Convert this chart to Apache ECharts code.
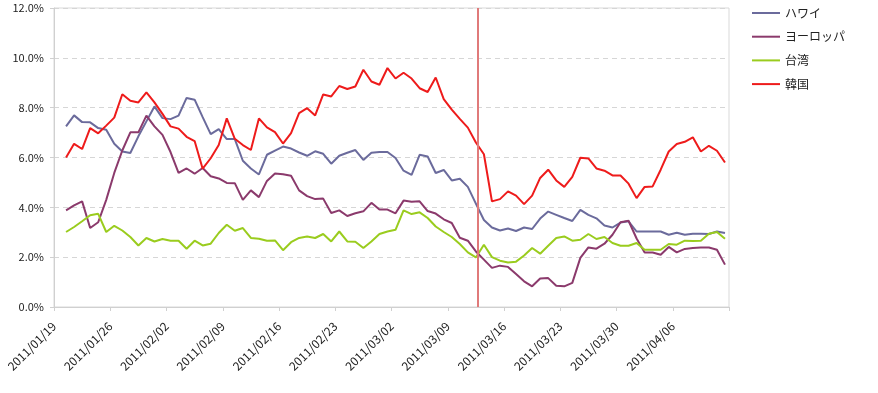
<!DOCTYPE html>
<html><head><meta charset="utf-8">
<script src="https://cdn.jsdelivr.net/npm/echarts@6/dist/echarts.min.js"></script>
<style>html,body{margin:0;padding:0;background:#fff}#c{width:878px;height:393px}</style>
</head><body><div id="c"></div>
<script>
// Tick labels (every 7 days, first day 2011/01/19)
const tickLabels = ['2011/01/19','2011/01/26','2011/02/02','2011/02/09','2011/02/16','2011/02/23','2011/03/02','2011/03/09','2011/03/16','2011/03/23','2011/03/30','2011/04/06'];
const seriesNames = ['ハワイ','ヨーロッパ','台湾','韓国'];
// Daily values (%) from 2011/01/20 to 2011/04/12
const hawaii = [7.25,7.69,7.42,7.41,7.18,7.11,6.55,6.24,6.18,6.85,7.45,8.05,7.58,7.54,7.68,8.39,8.32,7.62,6.94,7.14,6.74,6.74,5.87,5.56,5.32,6.11,6.28,6.44,6.36,6.2,6.07,6.25,6.15,5.75,6.07,6.19,6.3,5.9,6.19,6.22,6.22,5.98,5.47,5.3,6.11,6.04,5.38,5.5,5.08,5.15,4.82,4.15,3.49,3.19,3.07,3.15,3.05,3.19,3.13,3.55,3.83,3.7,3.57,3.45,3.9,3.7,3.56,3.27,3.19,3.39,3.44,3.03,3.03,3.03,3.03,2.9,2.98,2.9,2.94,2.94,2.93,3.03,2.97];
const europe = [3.88,4.08,4.24,3.17,3.4,4.3,5.38,6.28,7.01,7.01,7.68,7.25,6.91,6.22,5.38,5.56,5.35,5.58,5.25,5.16,4.98,4.97,4.3,4.68,4.41,5.06,5.36,5.33,5.27,4.68,4.45,4.33,4.35,3.77,3.88,3.65,3.76,3.84,4.18,3.91,3.91,3.76,4.27,4.22,4.24,3.85,3.75,3.52,3.37,2.78,2.66,2.23,1.9,1.57,1.66,1.61,1.32,1.03,0.83,1.14,1.16,0.85,0.83,0.97,1.97,2.39,2.34,2.54,2.9,3.4,3.46,2.75,2.19,2.19,2.1,2.41,2.19,2.33,2.37,2.39,2.39,2.3,1.7];
const taiwan = [3.01,3.21,3.44,3.68,3.74,3.01,3.26,3.07,2.81,2.47,2.77,2.63,2.73,2.66,2.66,2.34,2.66,2.47,2.54,2.97,3.3,3.06,3.17,2.77,2.74,2.66,2.67,2.28,2.6,2.77,2.83,2.77,2.93,2.63,3.03,2.63,2.62,2.37,2.63,2.93,3.03,3.1,3.88,3.73,3.8,3.57,3.23,3.01,2.81,2.53,2.19,1.99,2.5,2.0,1.86,1.79,1.82,2.07,2.37,2.14,2.46,2.77,2.83,2.66,2.7,2.93,2.73,2.81,2.57,2.46,2.46,2.57,2.3,2.3,2.3,2.53,2.5,2.66,2.65,2.66,2.94,3.01,2.74];
const korea = [6.0,6.55,6.34,7.18,6.97,7.28,7.6,8.54,8.28,8.21,8.61,8.21,7.75,7.25,7.16,6.83,6.66,5.55,5.97,6.5,7.57,6.75,6.5,6.3,7.57,7.21,7.02,6.56,6.98,7.78,7.98,7.69,8.53,8.45,8.87,8.75,8.85,9.52,9.05,8.92,9.59,9.17,9.4,9.17,8.78,8.63,9.21,8.34,7.92,7.55,7.2,6.6,6.13,4.24,4.33,4.64,4.47,4.13,4.47,5.18,5.51,5.08,4.82,5.22,5.99,5.96,5.56,5.47,5.28,5.28,4.95,4.37,4.82,4.84,5.51,6.24,6.54,6.63,6.81,6.24,6.47,6.27,5.8];
const firstDay = 1;      // data starts on the 2nd day of the axis
const totalDays = 84;    // 2011/01/19 .. 2011/04/12
const markerDay = 52.75; // vertical marker position (days from 2011/01/19)
const yTicks = [0,2,4,6,8,10,12];

const colors = ['#6b6b9c','#8b3a6c','#9acc1e','#ee1b1b'];
const allVals = [hawaii, europe, taiwan, korea];
const toData = arr => arr.map((v,k) => [firstDay + k + 0.5, v]);

const chart = echarts.init(document.getElementById('c'));
const font = "'Noto Sans CJK JP','Noto Sans',sans-serif";
chart.setOption({
  animation:false,
  backgroundColor:'#fff',
  textStyle:{fontFamily:font},
  grid:{left:54,right:149,top:8,bottom:86,containLabel:false,outerBoundsMode:'none',show:true,borderColor:'#d9d9d9',borderWidth:1},
  legend:{orient:'vertical',left:752,top:6,padding:0,itemWidth:28,itemHeight:2,itemGap:9.7,icon:'rect',
    data:seriesNames,textStyle:{fontSize:12,lineHeight:14,color:'#222',fontFamily:font},selectedMode:false},
  xAxis:{type:'value',min:0,max:totalDays,interval:7,
    axisLine:{show:true,lineStyle:{color:'#d0d0d0',width:1}},
    axisTick:{show:true,length:4,lineStyle:{color:'#d0d0d0'}},
    splitLine:{show:false},
    axisLabel:{rotate:45,margin:17,fontSize:12,color:'#222',fontFamily:font,
      formatter:v=>{const k=Math.round(v/7);return k<tickLabels.length?tickLabels[k]:'';},
      showMaxLabel:true,showMinLabel:true}},
  yAxis:{type:'value',min:yTicks[0],max:yTicks[yTicks.length-1],interval:2,
    axisLine:{show:true,lineStyle:{color:'#d0d0d0',width:1}},
    axisTick:{show:true,length:4,lineStyle:{color:'#d0d0d0'}},
    splitLine:{show:true,lineStyle:{color:'#d6d6d6',type:[5,4],width:1}},
    axisLabel:{margin:10,fontSize:11,color:'#222',fontFamily:font,formatter:v=>v.toFixed(1)+'%'}},
  series: seriesNames.map((n,i)=>({
    name:n,type:'line',symbol:'none',showSymbol:false,
    data:toData(allVals[i]),
    lineStyle:{color:colors[i],width:2},itemStyle:{color:colors[i]},
    z: i===3?4:3,
    markLine: i===0 ? {silent:true,symbol:['none','none'],label:{show:false},
      lineStyle:{color:'#e07a7a',width:2,type:'solid'},
      data:[{xAxis:markerDay}]} : undefined
  }))
});
</script></body></html>
